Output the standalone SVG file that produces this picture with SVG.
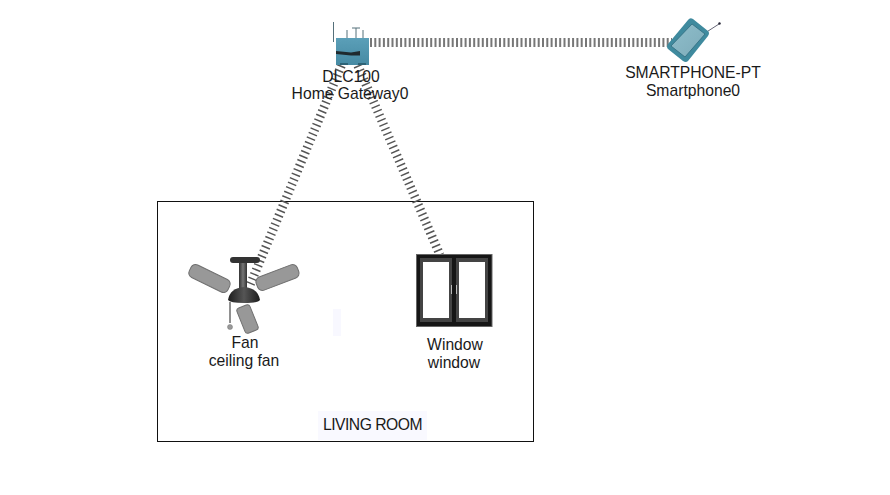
<svg xmlns="http://www.w3.org/2000/svg" width="890" height="495" viewBox="0 0 890 495">
<style>
text{font-family:"Liberation Sans",Arial,sans-serif;font-size:15.700px;fill:#1a1a1a;text-anchor:middle}
.wl{fill:none;stroke:#777;stroke-width:9;stroke-dasharray:2 2.300}
.wd{fill:none;stroke:#555;stroke-width:9;stroke-dasharray:1.500 3.400}
.blade{fill:#989898;stroke:#707070;stroke-width:1}
</style>
<defs>
<linearGradient id="gw" x1="0" y1="0" x2="0" y2="1"><stop offset="0" stop-color="#5b9fb8"/><stop offset="1" stop-color="#468aa3"/></linearGradient>
<linearGradient id="ph" x1="0" y1="0" x2="1" y2="1"><stop offset="0" stop-color="#8fbecb"/><stop offset="1" stop-color="#7dabb9"/></linearGradient>
<linearGradient id="dome" x1="0" y1="0" x2="1" y2="0"><stop offset="0" stop-color="#1c1c1c"/><stop offset=".5" stop-color="#555"/><stop offset="1" stop-color="#1c1c1c"/></linearGradient>
<linearGradient id="stem" x1="0" y1="0" x2="1" y2="0"><stop offset="0" stop-color="#333"/><stop offset=".5" stop-color="#777"/><stop offset="1" stop-color="#333"/></linearGradient>
</defs>
<g id="room">
<rect x="157.500" y="201.500" width="376" height="240" fill="#fff" stroke="#111" stroke-width="1"/>
<rect x="333" y="309" width="8" height="27" fill="#f8f8ff"/>
<rect x="318" y="411" width="109" height="29" fill="#f9f9ff"/>
<text x="372.500" y="430" style="letter-spacing:-.5px">LIVING ROOM</text>
</g>
<g id="connectors">
<path class="wl" d="M370 42.500H672"/>
<path class="wd" d="M347 52L250 285"/>
<path class="wd" d="M352 52L440 255"/>
</g>
<g id="gateway">
<path d="M333.500 22V42M347 30V38M363 30V38M352 28H360M356 28V38" fill="none" stroke="#55707a" stroke-width="1"/>
<rect x="336" y="38" width="33" height="27" fill="url(#gw)"/>
<path d="M336 51L351 52.500L360 51V55.500L351 55.500L336 54Z" fill="#1f2a2e"/>
<rect x="340" y="63" width="8" height="2" fill="#2d6376"/>
<rect x="358" y="63" width="8" height="2" fill="#2d6376"/>
<text x="351" y="82">DLC100</text>
<text x="350" y="99">Home Gateway0</text>
</g>
<g id="smartphone">
<path d="M705 33L719 24" stroke="#667" stroke-width="1" fill="none"/>
<circle cx="719.500" cy="23.500" r="1.200" fill="#223"/>
<path d="M693 19L708 31Q710 33 708 36L688 61Q686 63 683 61L668 49Q666 47 668 44L688 20Q690 17 693 19Z" fill="#3f8a9e"/>
<path d="M692 24L705 34L685 57L671 46Z" fill="url(#ph)" stroke="#2f6b7d" stroke-width=".8"/>
<text x="693" y="78">SMARTPHONE-PT</text>
<text x="693" y="96">Smartphone0</text>
</g>
<g id="fan">
<rect x="230" y="257" width="30" height="6" rx="3" fill="#333"/>
<rect x="239" y="263" width="8" height="27" fill="url(#stem)"/>
<rect class="blade" x="188" y="271.500" width="43" height="14" rx="5" transform="rotate(26 209.500 278.500)"/>
<rect class="blade" x="255.500" y="270.500" width="44" height="14" rx="5" transform="rotate(-21 277.500 277.500)"/>
<rect class="blade" x="234" y="312" width="27" height="14" rx="3" transform="rotate(68 247.500 319)"/>
<path d="M228 300Q230 288 244 287Q258 288 260 300Q258 303 244 303Q230 303 228 300Z" fill="url(#dome)"/>
<path d="M230 302V323" stroke="#222" stroke-width="1" fill="none"/>
<circle cx="230" cy="327" r="2.500" fill="#999" stroke="#777" stroke-width=".5"/>
<text x="245" y="348">Fan</text>
<text x="244" y="366">ceiling fan</text>
</g>
<g id="window">
<rect x="416.500" y="254.500" width="75.500" height="72" fill="#161616" stroke="#666" stroke-width="1"/>
<rect x="420" y="258" width="32" height="64" fill="#444"/>
<rect x="456" y="258" width="32" height="64" fill="#444"/>
<rect x="423" y="262" width="26" height="56" fill="#fff"/>
<rect x="459" y="262" width="26" height="56" fill="#fff"/>
<path d="M451.500 285V294M456.500 285V294" stroke="#bbb" stroke-width="1" fill="none"/>
<text x="455" y="350">Window</text>
<text x="454" y="368">window</text>
</g>
</svg>
